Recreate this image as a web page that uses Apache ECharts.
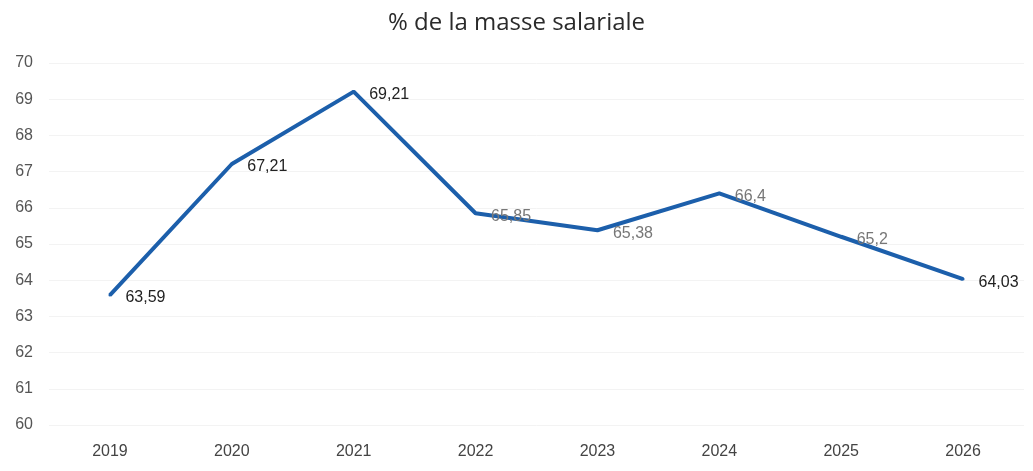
<!DOCTYPE html>
<html><head><meta charset="utf-8">
<script src="https://cdn.jsdelivr.net/npm/echarts@6/dist/echarts.min.js"></script>
<style>html,body{margin:0;padding:0;background:#fff}#c{width:1033px;height:471px}</style>
</head><body><div id="c"></div>
<script>
var years = ['2019','2020','2021','2022','2023','2024','2025','2026'];
var values = [63.59, 67.21, 69.21, 65.85, 65.38, 66.4, 65.2, 64.03];
var labelColors = ['#222','#222','#222','#777','#777','#777','#777','#222'];
var yTicks = [60,61,62,63,64,65,66,67,68,69,70];

var chart = echarts.init(document.getElementById('c'));
chart.setOption({
  animation:false,
  title:{text:'% de la masse salariale',left:'center',top:6,
    textStyle:{fontFamily:'Open Sans',fontSize:24,fontWeight:'normal',color:'#2a2a2a'}},
  grid:{left:49,right:9,top:63,bottom:46},
  xAxis:{type:'category',data:years,boundaryGap:true,
    axisLine:{show:false},axisTick:{show:false},
    axisLabel:{color:'#444',fontSize:16,fontFamily:'Liberation Sans',margin:19}},
  yAxis:{type:'value',min:yTicks[0],max:yTicks[yTicks.length-1],interval:1,
    axisLine:{show:false},axisTick:{show:false},
    splitLine:{lineStyle:{color:'#f3f3f3',width:1}},
    axisLabel:{color:'#555',fontSize:16,fontFamily:'Liberation Sans',margin:16}},
  series:[{type:'line',
    data:values.map(function(v,i){return {value:v,label:{show:true,color:labelColors[i]}};}),
    symbol:'circle',symbolSize:3,showSymbol:true,
    itemStyle:{color:'#1c5fab'},
    lineStyle:{color:'#1c5fab',width:4},
    label:{show:true,position:'right',distance:14,offset:[0,3],fontSize:16,fontFamily:'Liberation Sans',
      formatter:function(p){return String(p.value).replace('.',',');}}
  }]
});
</script></body></html>
